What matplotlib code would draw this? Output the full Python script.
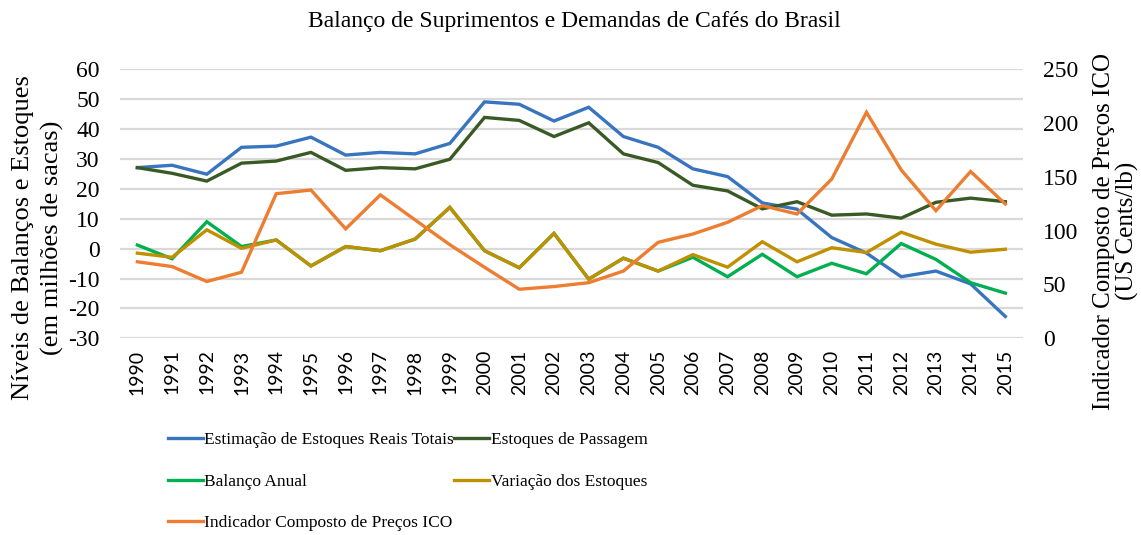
import matplotlib
matplotlib.use("Agg")
import matplotlib.pyplot as plt

years = [str(y) for y in range(1990, 2016)]

estoques_reais = [27.1, 27.9, 24.9, 33.9, 34.3, 37.3, 31.3, 32.2, 31.7, 35.2,
                  49.1, 48.3, 42.7, 47.3, 37.5, 33.9, 26.7, 24.1, 15.3, 13.2,
                  3.7, -1.5, -9.4, -7.5, -11.8, -22.7]
estoques_passagem = [27.1, 25.2, 22.6, 28.6, 29.3, 32.2, 26.2, 27.1, 26.7, 29.9,
                     43.9, 42.9, 37.5, 42.1, 31.7, 28.8, 21.2, 19.3, 13.3, 15.7,
                     11.2, 11.6, 10.2, 15.5, 16.9, 15.7]
balanco_anual = [1.2, -3.4, 9.0, 0.7, 2.9, -5.8, 0.7, -0.7, 3.2, 13.8,
                 -0.7, -6.4, 5.1, -10.2, -3.2, -7.5, -2.9, -9.4, -1.9, -9.4,
                 -4.9, -8.4, 1.7, -3.6, -11.4, -14.9]
variacao_estoques = [-1.5, -2.9, 6.3, 0.1, 2.9, -5.8, 0.7, -0.7, 3.2, 13.8,
                     -0.7, -6.4, 5.1, -10.2, -3.2, -7.5, -2.0, -6.2, 2.3, -4.4,
                     0.3, -1.3, 5.5, 1.5, -1.2, -0.2]
preco_ico = [71.1, 66.7, 52.8, 61.4, 134.4, 137.8, 101.7, 133.3, 110.0, 87.0,
             66.0, 45.6, 48.1, 51.7, 62.5, 89.2, 96.9, 107.8, 123.3, 115.5,
             148.0, 210.0, 156.5, 118.6, 155.0, 124.8]

left_ticks = [60, 50, 40, 30, 20, 10, 0, -10, -20, -30]
right_ticks = [0, 50, 100, 150, 200, 250]

labels = ["Estimação de Estoques Reais Totais", "Estoques de Passagem",
          "Balanço Anual", "Variação dos Estoques",
          "Indicador Composto de Preços ICO"]
colors = ["#3875BE", "#3A5A25", "#00B050", "#BF9000", "#ED7D31"]

serif = ["Liberation Serif", "DejaVu Serif"]
sans = ["Lato", "DejaVu Sans"]

fig = plt.figure(figsize=(11.41, 5.35), dpi=100)
ax = fig.add_axes([120/1141, 1-338.3/535, (1022.7-120)/1141, (338.3-69.3)/535])
x = list(range(len(years)))
lw = 2.4
series = [estoques_reais, estoques_passagem, balanco_anual, variacao_estoques]
handles = []
for s, c, l in zip(series, colors[:4], labels[:4]):
    h, = ax.plot(x, s, color=c, lw=lw, label=l, solid_joinstyle="miter", zorder=3)
    handles.append(h)
ax.set_ylim(-30, 60)
ax.set_xlim(-0.5, len(years) - 0.5)
ax.set_yticks(left_ticks)
ax.set_yticklabels([str(t) for t in left_ticks], family=serif, fontsize=17)
ax.set_xticks(x)
ax.set_xticklabels(years, rotation=90, family=sans, fontsize=14)
ax.tick_params(axis="both", length=0)
ax.tick_params(axis="y", pad=14.5)
ax.tick_params(axis="x", pad=8)
ax.grid(axis="y", color="#D9D9D9", lw=1.6, zorder=0)
ax.set_axisbelow(True)
for sp in ax.spines.values():
    sp.set_visible(False)

ax2 = ax.twinx()
h, = ax2.plot(x, preco_ico, color=colors[4], lw=lw, label=labels[4],
              solid_joinstyle="miter", zorder=4)
handles.append(h)
ax2.set_ylim(0, 250)
ax2.set_yticks(right_ticks)
ax2.set_yticklabels([str(t) for t in right_ticks], family=serif, fontsize=17)
ax2.tick_params(axis="y", length=0, pad=14.5)
for sp in ax2.spines.values():
    sp.set_visible(False)

fig.text(574/1141, 1-22/535, "Balanço de Suprimentos e Demandas de Cafés do Brasil",
         ha="center", va="center", family=serif, fontsize=17)
fig.text(38/1141, 1-238/535, "Níveis de Balanços e Estoques\n(em milhões de sacas)",
         ha="center", va="center", rotation=90, family=serif, fontsize=19,
         linespacing=1.4)
fig.text(1116/1141, 1-231/535, "Indicador Composto de Preços ICO\n(US Cents/lb)",
         ha="center", va="center", rotation=90, family=serif, fontsize=18,
         linespacing=1.0)

order = [0, 2, 4, 1, 3]
leg = fig.legend([handles[i] for i in order], [labels[i] for i in order],
                 ncol=2, loc="upper left", bbox_to_anchor=(168/1141, 1-432/535),
                 frameon=False, prop={"family": serif, "size": 12.5},
                 handlelength=2.0, handletextpad=0.1, columnspacing=0.0,
                 labelspacing=1.46, borderaxespad=0, borderpad=0)

fig.savefig("out.png", dpi=100)
